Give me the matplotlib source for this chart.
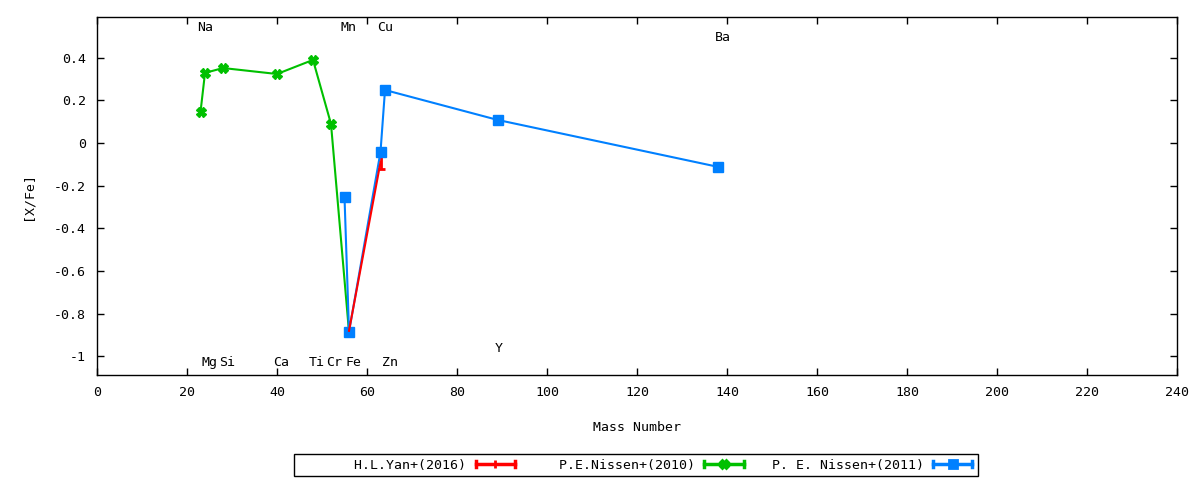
import numpy as np
import matplotlib
matplotlib.use('Agg')
import matplotlib.pyplot as plt
from matplotlib.lines import Line2D
from matplotlib.legend_handler import HandlerBase

plt.rcParams['font.family'] = ['DejaVu Sans Mono']
plt.rcParams['font.size'] = 9.5

# H.L.Yan+(2016)
yan_mass = [56, 63]
yan_xfe = [-0.88, -0.09]
yan_err = [0.0, 0.03]

# P.E.Nissen+(2010)
n10_mass = [23, 24, 28, 40, 48, 52, 56]
n10_xfe = [0.145, 0.328, 0.351, 0.323, 0.389, 0.089, -0.885]

# P. E. Nissen+(2011)
n11_mass = [55, 56, 63, 64, 89, 138]
n11_xfe = [-0.253, -0.885, -0.042, 0.248, 0.108, -0.112]

# element labels: name, x, y
el_names = ['Na', 'Mn', 'Cu', 'Ba', 'Mg', 'Si', 'Ca', 'Ti', 'Cr', 'Fe', 'Zn', 'Y']
el_x = [24, 55.8, 64, 139, 25.1, 28.9, 41, 48.9, 52.7, 57.1, 65.1, 89.3]
el_y = [0.543, 0.543, 0.543, 0.496, -1.03, -1.03, -1.03, -1.03, -1.03, -1.03, -1.03, -0.965]

series_names = ['H.L.Yan+(2016)', 'P.E.Nissen+(2010)', 'P. E. Nissen+(2011)']

RED = '#ff0000'
GREEN = '#00c000'
BLUE = '#0080ff'


class CapHandler(HandlerBase):
    def create_artists(self, legend, orig, xdescent, ydescent, width, height, fontsize, trans):
        color, marker, ms = orig
        y = height / 2.0 - ydescent
        h = height * 0.3
        x0, x1 = -xdescent + 1, width - xdescent - 1
        arts = [Line2D([x0, x1], [y, y], color=color, lw=2.5),
                Line2D([x0, x0], [y - h, y + h], color=color, lw=2.5),
                Line2D([x1, x1], [y - h, y + h], color=color, lw=2.5)]
        if marker:
            arts.append(Line2D([(x0 + x1) / 2], [y], color=color, marker=marker,
                               markersize=ms, linestyle='none', markeredgewidth=2))
        for a in arts:
            a.set_transform(trans)
        return arts


fig = plt.figure(figsize=(12, 4.8), dpi=100)
ax = fig.add_axes([97 / 1200, 105 / 480, 1080 / 1200, 358 / 480])

ax.errorbar(yan_mass, yan_xfe, yerr=yan_err, color=RED, lw=1.5, capsize=3, elinewidth=2,
            capthick=2, marker='None')
ax.plot(n10_mass, n10_xfe, color=GREEN, lw=1.5, marker='X', markersize=7)
ax.plot(n11_mass, n11_xfe, color=BLUE, lw=1.5, marker='s', markersize=7.5)

for name, x, y in zip(el_names, el_x, el_y):
    ax.text(x, y, name, ha='center', va='center', color='black')

ax.set_xlim(0, 240)
ax.set_ylim(-1.087, 0.59)
ax.set_xticks(np.arange(0, 241, 20))
ax.set_yticks(np.round(np.arange(-1, 0.41, 0.2), 1))
ax.yaxis.set_major_formatter(plt.FuncFormatter(lambda v, p: '%g' % (round(v, 1) + 0.0)))
ax.tick_params(direction='in', length=5, width=1, top=True, right=True, pad=8)
for s in ax.spines.values():
    s.set_linewidth(1)

ax.set_xlabel('Mass Number', labelpad=16)
ax.set_ylabel('[X/Fe]', labelpad=14)

# gnuplot-style key: text right-aligned before the sample
width = max(len(s) for s in series_names) + 2
labels = [s.rjust(width) for s in series_names]
handles = [(RED, '|', 6), (GREEN, 'X', 6), (BLUE, 's', 6)]
leg = fig.legend(handles, labels, handler_map={tuple: CapHandler()}, ncol=3,
                 loc='center', bbox_to_anchor=(636 / 1200, 1 - 465 / 480),
                 markerfirst=False, handlelength=3.2, columnspacing=0.8,
                 handletextpad=0.6, fancybox=False, borderpad=0.35,
                 edgecolor='black', framealpha=1)
leg.get_frame().set_linewidth(1)

fig.savefig('out.png', dpi=100)
